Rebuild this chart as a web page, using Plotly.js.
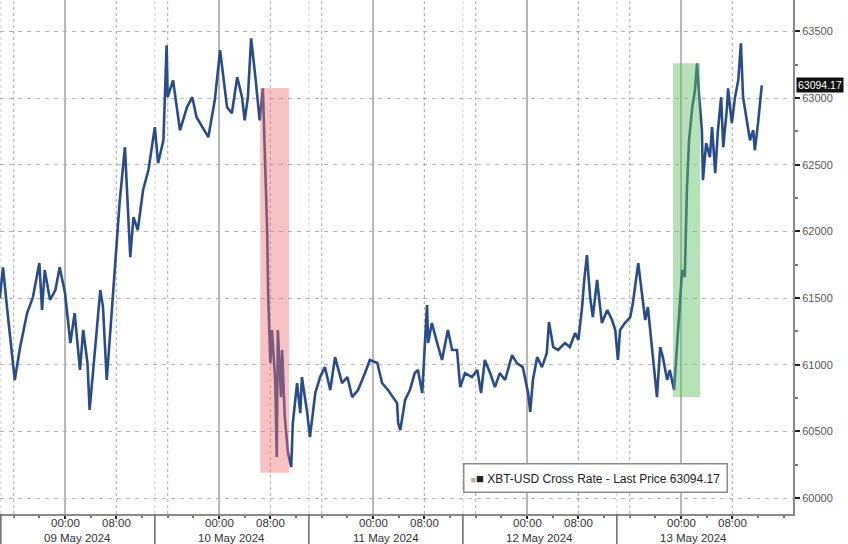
<!DOCTYPE html>
<html>
<head>
<meta charset="utf-8">
<script src="https://cdn.plot.ly/plotly-3.0.1.min.js"></script>
<style>
  html, body { margin: 0; padding: 0; background: #ffffff; }
  #chart { width: 848px; height: 544px; }
</style>
</head>
<body>
<div id="chart"></div>
<script>
// ---- Data ----
const seriesName = "XBT-USD Cross Rate - Last Price";
const times = [
  "2024-05-08 13:50","2024-05-08 14:20","2024-05-08 15:00","2024-05-08 16:10","2024-05-08 17:00",
  "2024-05-08 18:05","2024-05-08 19:00","2024-05-08 20:00","2024-05-08 20:25","2024-05-08 20:50",
  "2024-05-08 21:40","2024-05-08 22:30","2024-05-08 23:10",
  "2024-05-09 00:00","2024-05-09 00:50","2024-05-09 01:30","2024-05-09 02:20","2024-05-09 02:50",
  "2024-05-09 03:30","2024-05-09 03:50","2024-05-09 04:40","2024-05-09 05:30","2024-05-09 05:55",
  "2024-05-09 06:30","2024-05-09 07:20","2024-05-09 08:10","2024-05-09 08:30","2024-05-09 09:20",
  "2024-05-09 09:40","2024-05-09 10:10","2024-05-09 10:40","2024-05-09 11:20","2024-05-09 12:10",
  "2024-05-09 13:00","2024-05-09 14:00","2024-05-09 14:30","2024-05-09 15:20","2024-05-09 15:50",
  "2024-05-09 16:00","2024-05-09 16:50","2024-05-09 17:55","2024-05-09 19:00","2024-05-09 19:50",
  "2024-05-09 20:30","2024-05-09 22:20","2024-05-09 23:20",
  "2024-05-10 00:10","2024-05-10 01:15","2024-05-10 02:00","2024-05-10 02:50","2024-05-10 03:35",
  "2024-05-10 04:00","2024-05-10 04:30","2024-05-10 05:00","2024-05-10 05:40","2024-05-10 06:20",
  "2024-05-10 06:50","2024-05-10 07:10","2024-05-10 07:30","2024-05-10 07:40","2024-05-10 08:00",
  "2024-05-10 08:15","2024-05-10 08:45","2024-05-10 09:00","2024-05-10 09:10","2024-05-10 09:40",
  "2024-05-10 09:50","2024-05-10 10:15","2024-05-10 10:45","2024-05-10 11:15","2024-05-10 11:30",
  "2024-05-10 12:10","2024-05-10 12:40","2024-05-10 12:55","2024-05-10 13:45","2024-05-10 14:10",
  "2024-05-10 15:00","2024-05-10 15:45","2024-05-10 16:30","2024-05-10 17:20","2024-05-10 18:05",
  "2024-05-10 19:10","2024-05-10 20:00","2024-05-10 20:45","2024-05-10 21:40","2024-05-10 22:45",
  "2024-05-10 23:30",
  "2024-05-11 00:40","2024-05-11 01:25","2024-05-11 02:20","2024-05-11 03:45","2024-05-11 03:55",
  "2024-05-11 04:15","2024-05-11 05:00","2024-05-11 05:45","2024-05-11 06:30","2024-05-11 07:00",
  "2024-05-11 07:40","2024-05-11 08:05","2024-05-11 08:25","2024-05-11 08:35","2024-05-11 09:10",
  "2024-05-11 10:00","2024-05-11 10:45","2024-05-11 11:40","2024-05-11 12:20","2024-05-11 13:05",
  "2024-05-11 13:35","2024-05-11 14:20","2024-05-11 15:25","2024-05-11 16:15","2024-05-11 16:50",
  "2024-05-11 17:25","2024-05-11 18:15","2024-05-11 19:00","2024-05-11 19:45","2024-05-11 20:35",
  "2024-05-11 21:40","2024-05-11 22:25","2024-05-11 23:20",
  "2024-05-12 00:10","2024-05-12 00:30","2024-05-12 00:55","2024-05-12 01:35","2024-05-12 02:20",
  "2024-05-12 03:05","2024-05-12 03:25","2024-05-12 04:05","2024-05-12 04:50","2024-05-12 05:55",
  "2024-05-12 06:40","2024-05-12 07:30","2024-05-12 08:00","2024-05-12 08:35","2024-05-12 08:55",
  "2024-05-12 09:20","2024-05-12 09:50","2024-05-12 10:15","2024-05-12 10:55","2024-05-12 11:40",
  "2024-05-12 12:30","2024-05-12 13:15","2024-05-12 13:45","2024-05-12 14:10","2024-05-12 14:30",
  "2024-05-12 15:15","2024-05-12 16:05","2024-05-12 16:30","2024-05-12 17:20","2024-05-12 17:55",
  "2024-05-12 18:25","2024-05-12 18:50","2024-05-12 19:30","2024-05-12 19:55","2024-05-12 20:15",
  "2024-05-12 20:45","2024-05-12 21:10","2024-05-12 21:50","2024-05-12 22:15","2024-05-12 22:55",
  "2024-05-12 23:25","2024-05-12 23:50",
  "2024-05-13 00:10","2024-05-13 00:35","2024-05-13 00:55","2024-05-13 01:15","2024-05-13 01:45",
  "2024-05-13 02:10","2024-05-13 02:30","2024-05-13 02:50","2024-05-13 03:15","2024-05-13 03:25",
  "2024-05-13 03:55","2024-05-13 04:30","2024-05-13 04:50","2024-05-13 05:20","2024-05-13 05:45",
  "2024-05-13 06:15","2024-05-13 06:35","2024-05-13 07:10","2024-05-13 07:20","2024-05-13 07:55",
  "2024-05-13 08:25","2024-05-13 08:55","2024-05-13 09:20","2024-05-13 09:40","2024-05-13 10:15",
  "2024-05-13 10:45","2024-05-13 11:15","2024-05-13 11:30","2024-05-13 12:00","2024-05-13 12:35"
];
const prices = [
  61500,61730,61410,60885,61130,
  61385,61507,61762,61410,61710,
  61485,61560,61730,
  61537,61162,61387,60960,61260,
  61012,60660,61110,61560,61432,
  60885,61432,61957,62211,62631,
  62256,61807,62106,62010,62310,
  62460,62781,62511,62683,63395,
  63006,63133,62758,62930,63006,
  62856,62706,62983,
  63358,62930,62886,63157,63006,
  62833,63006,63448,63157,62833,
  63073,62586,62010,61507,61012,
  61260,60885,60307,61260,60757,
  61110,60607,60337,60232,60562,
  60862,60637,60907,60637,60457,
  60787,60907,60982,60810,61057,
  60862,60907,60757,60810,60937,
  61035,
  61012,60862,60810,60712,60562,
  60510,60735,60810,60937,60960,
  60787,61185,61447,61162,61312,
  61162,61035,61260,61110,61110,
  60832,60937,60907,60960,60787,
  61035,60937,60832,60937,60885,
  61072,61012,60982,
  60787,60645,60885,61057,60982,
  61087,61320,61132,61110,61162,
  61132,61237,61185,61432,61635,
  61822,61507,61357,61635,61312,
  61410,61335,61260,61035,61260,
  61312,61357,61462,61762,61507,
  61335,61432,61132,60960,60757,
  61132,61057,60885,60960,60810,
  61207,61507,
  61710,61657,62310,62683,62930,
  63058,63260,63006,62758,62384,
  62661,62556,62781,62436,62758,
  63006,62631,62930,63073,62811,
  63006,63133,63410,63006,62811,
  62683,62758,62608,62811,63094.17
];
const days = ["2024-05-09","2024-05-10","2024-05-11","2024-05-12","2024-05-13"];
const dayLabels = ["09 May 2024","10 May 2024","11 May 2024","12 May 2024","13 May 2024"];
const timeLabels = ["00:00","08:00"];
// session separators (date-box boundaries)
const separators = ["2024-05-08 14:00","2024-05-09 14:00","2024-05-10 14:00","2024-05-11 14:00","2024-05-12 14:00"];
// dotted intraday gridlines
const dottedTimes = ["2024-05-08 16:00","2024-05-09 08:00","2024-05-09 16:00","2024-05-10 08:00","2024-05-10 16:00",
  "2024-05-11 08:00","2024-05-11 16:00","2024-05-12 08:00","2024-05-12 16:00","2024-05-13 08:00"];
// highlighted windows [start, end, low, high]
const redBand = ["2024-05-10 06:25","2024-05-10 10:55",60190,63075];
const greenBand = ["2024-05-12 22:45","2024-05-13 02:58",60757,63260];

// ---- Build chart ----
const lastPrice = prices[prices.length - 1];
const tickvals = [], ticktext = [];
days.forEach(d => timeLabels.forEach(t => { tickvals.push(d + " " + t); ticktext.push(t); }));

const shapes = [];
days.forEach(d => shapes.push({type:"line", xref:"x", yref:"paper", x0:d+" 00:00", x1:d+" 00:00", y0:0, y1:1,
  line:{color:"#a6a6a6", width:1.6}, layer:"below"}));
dottedTimes.forEach(t => shapes.push({type:"line", xref:"x", yref:"paper", x0:t, x1:t, y0:0, y1:1,
  line:{color:"#b5b5b5", width:1.2, dash:"dot"}, layer:"below"}));
separators.forEach(t => {
  shapes.push({type:"line", xref:"x", yref:"paper", x0:t, x1:t, y0:0, y1:1,
    line:{color:"#cfcfcf", width:1, dash:"dot"}, layer:"below"});
  shapes.push({type:"line", xref:"x", yref:"paper", x0:t, x1:t, y0:-30/514, y1:0,
    line:{color:"#707070", width:1.6}, layer:"above"});
});
shapes.push({type:"rect", xref:"x", yref:"y", x0:redBand[0], x1:redBand[1], y0:redBand[2], y1:redBand[3],
  fillcolor:"rgba(238,110,110,0.42)", line:{width:0}, layer:"above"});
shapes.push({type:"rect", xref:"x", yref:"y", x0:greenBand[0], x1:greenBand[1], y0:greenBand[2], y1:greenBand[3],
  fillcolor:"rgba(95,190,95,0.45)", line:{width:0}, layer:"above"});

const annotations = [];
tickvals.forEach((tv, i) => annotations.push({xref:"x", yref:"paper", x:tv, y:-9/514, yanchor:"middle",
  text:ticktext[i], showarrow:false, font:{size:11.5, color:"#333333"}}));
days.forEach((d, i) => annotations.push({xref:"x", yref:"paper", x:d+" 02:00", y:-24/514, yanchor:"middle",
  text:dayLabels[i], showarrow:false, font:{size:11.5, color:"#333333"}}));
annotations.push({xref:"paper", yref:"y", x:1, xanchor:"left", xshift:3, y:lastPrice, yanchor:"middle",
  text:lastPrice.toFixed(2), showarrow:false, bgcolor:"#111111", borderpad:1,
  font:{size:10.5, color:"#ffffff"}});
annotations.push({xref:"paper", yref:"paper", x:0.751, y:0.07, xanchor:"center", yanchor:"middle",
  text:'<span style="color:#b0b0b0;font-size:9px">■</span><span style="font-size:13px">■</span> ' + seriesName + ' ' + lastPrice.toFixed(2),
  showarrow:false, bgcolor:"#ffffff", bordercolor:"#8c8c8c", borderwidth:1.5, borderpad:6,
  font:{size:12, color:"#222222"}});

const trace = {
  type:"scatter", mode:"lines", x:times, y:prices, name:seriesName,
  line:{color:"#294c8a", width:2.6}, hoverinfo:"skip"
};

const layout = {
  width:848, height:544,
  margin:{l:0, r:55, t:0, b:30},
  paper_bgcolor:"#ffffff", plot_bgcolor:"#ffffff",
  font:{family:"Arial, 'Liberation Sans', sans-serif", color:"#333333"},
  showlegend:false,
  xaxis:{
    type:"date", range:["2024-05-08 13:52","2024-05-13 17:27"],
    tickmode:"array", tickvals:tickvals, ticktext:ticktext, showticklabels:false,
    showgrid:false, zeroline:false,
    showline:true, linecolor:"#8a8a8a", linewidth:2,
    ticks:"outside", ticklen:3, tickwidth:2, tickcolor:"#222222",
    minor:{dtick:4*3600*1000, tick0:"2024-05-09 00:00", ticks:"outside", ticklen:2, tickcolor:"#777777", showgrid:false}
  },
  yaxis:{
    side:"right", range:[59880, 63735], dtick:500, tick0:0, tickformat:"d",
    showgrid:true, gridcolor:"#b4b4b4", griddash:"4px,5px", gridwidth:1,
    zeroline:false, showline:true, linecolor:"#8a8a8a", linewidth:2,
    ticks:"outside", ticklen:5, tickwidth:2, tickcolor:"#222222",
    tickfont:{size:11, color:"#555555"},
    minor:{dtick:250, ticks:"outside", ticklen:3, tickcolor:"#777777", showgrid:false}
  },
  shapes:shapes,
  annotations:annotations
};

Plotly.newPlot("chart", [trace], layout, {displayModeBar:false, staticPlot:true});
</script>
</body>
</html>
